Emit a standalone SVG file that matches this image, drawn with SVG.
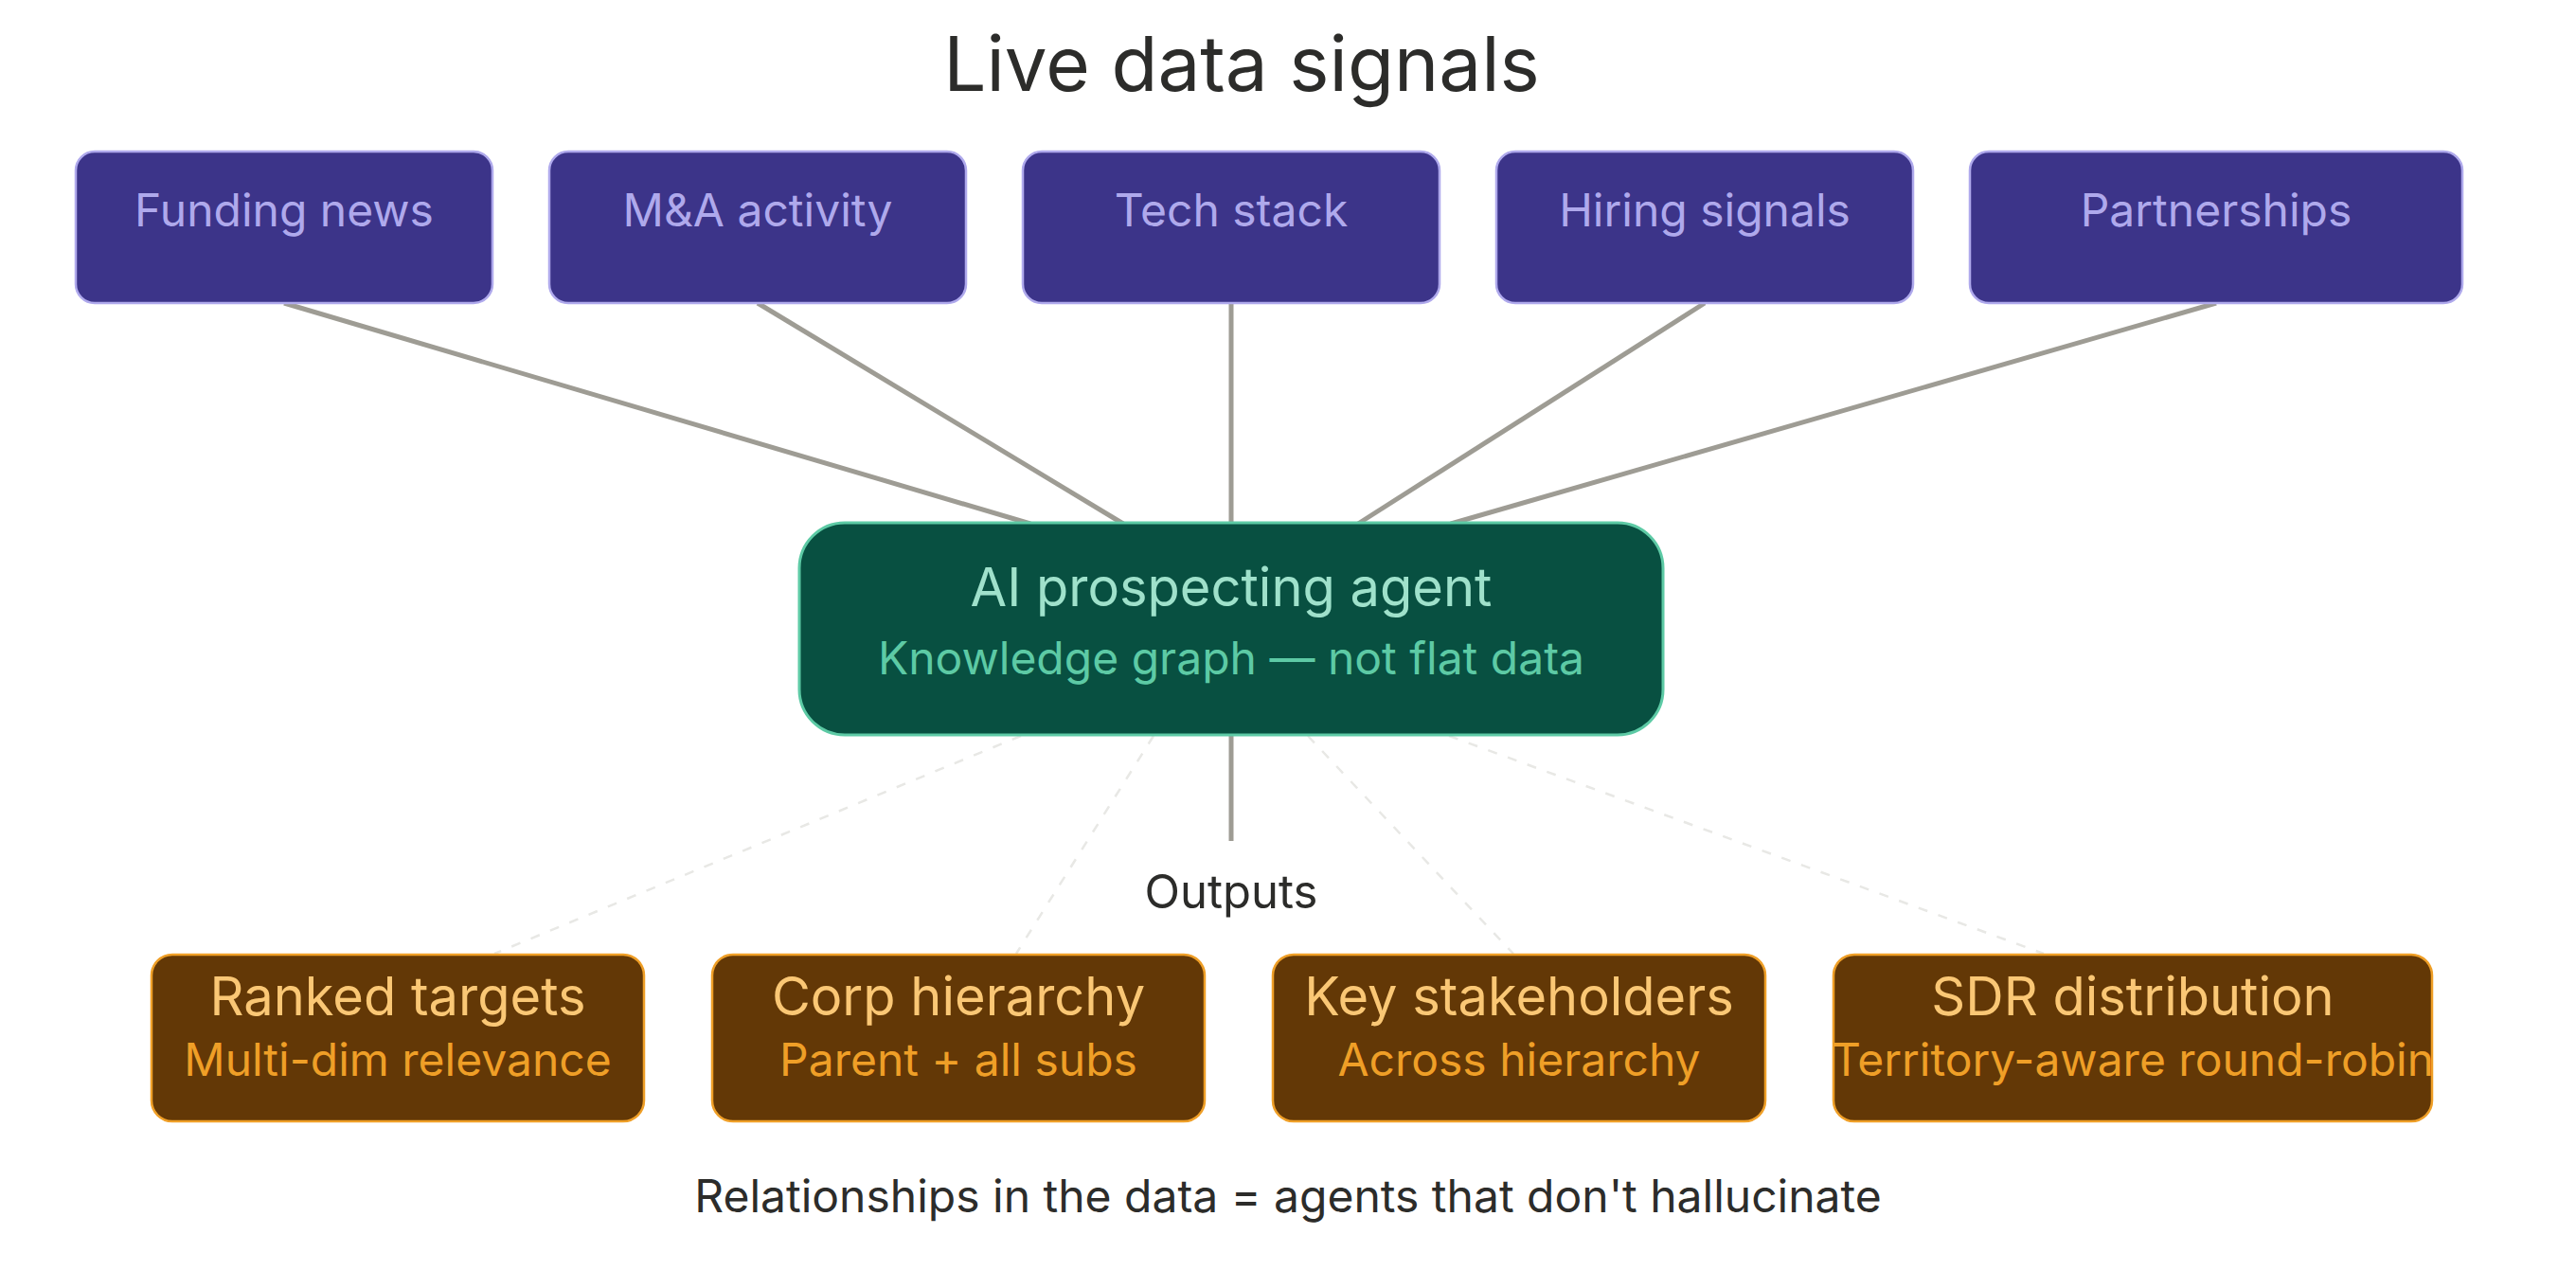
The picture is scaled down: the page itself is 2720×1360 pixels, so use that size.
<svg xmlns="http://www.w3.org/2000/svg" width="2720" height="1360" viewBox="0 0 2720 1360">
<style>
text{font-family:Inter,"Noto Sans","Liberation Sans",sans-serif;text-anchor:middle}
.src rect{fill:#3C3489;stroke:#AFA9EC;stroke-width:2.5}
.src text{fill:#AFA9EC;font-size:48px}
.hub rect{fill:#085041;stroke:#5DCAA5;stroke-width:3}
.out rect{fill:#633806;stroke:#EF9F27;stroke-width:2.5}
.out .t{fill:#FAC775;font-size:56px}
.out .s{fill:#EF9F27;font-size:48px}
.solid{stroke:#9E9C94;stroke-width:5;fill:none}
.dash{stroke:#E8E8E5;stroke-width:2.5;stroke-dasharray:10 12;fill:none}
.plain{fill:#2C2C2A}
</style>
<rect width="2720" height="1360" fill="#ffffff"/>
<text id="title" class="plain" x="1311" y="96" font-size="80">Live data signals</text>
<g id="connectors">
<line class="solid" x1="300" y1="320" x2="1088" y2="553"/>
<line class="solid" x1="800" y1="320" x2="1186" y2="553"/>
<line class="solid" x1="1300" y1="320" x2="1300" y2="553"/>
<line class="solid" x1="1800" y1="320" x2="1434" y2="553"/>
<line class="solid" x1="2340" y1="320" x2="1532" y2="553"/>
<line class="solid" x1="1300" y1="776" x2="1300" y2="888"/>
<line class="dash" x1="1078" y1="777" x2="522" y2="1007"/>
<line class="dash" x1="1218" y1="777" x2="1073" y2="1007"/>
<line class="dash" x1="1381" y1="777" x2="1598" y2="1007"/>
<line class="dash" x1="1530" y1="777" x2="2158" y2="1007"/>
</g>
<g id="n-funding" class="src"><rect x="80" y="160" width="440" height="160" rx="20"/><text x="300" y="239">Funding news</text></g>
<g id="n-ma" class="src"><rect x="580" y="160" width="440" height="160" rx="20"/><text x="800" y="239">M&amp;A activity</text></g>
<g id="n-tech" class="src"><rect x="1080" y="160" width="440" height="160" rx="20"/><text x="1300" y="239">Tech stack</text></g>
<g id="n-hiring" class="src"><rect x="1580" y="160" width="440" height="160" rx="20"/><text x="1800" y="239">Hiring signals</text></g>
<g id="n-partner" class="src"><rect x="2080" y="160" width="520" height="160" rx="20"/><text x="2340" y="239">Partnerships</text></g>
<g id="n-agent" class="hub"><rect x="844" y="552" width="912" height="224" rx="48"/>
<text x="1300" y="640" font-size="56" fill="#9FE1CB">AI prospecting agent</text>
<text x="1300" y="712" font-size="48" fill="#5DCAA5">Knowledge graph — not flat data</text></g>
<text id="outputs-label" class="plain" x="1300" y="959" font-size="49">Outputs</text>
<g id="n-ranked" class="out"><rect x="160" y="1008" width="520" height="176" rx="22"/><text class="t" x="420" y="1072">Ranked targets</text><text class="s" x="420" y="1136">Multi-dim relevance</text></g>
<g id="n-corp" class="out"><rect x="752" y="1008" width="520" height="176" rx="22"/><text class="t" x="1012" y="1072">Corp hierarchy</text><text class="s" x="1012" y="1136">Parent + all subs</text></g>
<g id="n-stake" class="out"><rect x="1344" y="1008" width="520" height="176" rx="22"/><text class="t" x="1604" y="1072">Key stakeholders</text><text class="s" x="1604" y="1136">Across hierarchy</text></g>
<g id="n-sdr" class="out"><rect x="1936" y="1008" width="632" height="176" rx="22"/><text class="t" x="2252" y="1072">SDR distribution</text><text class="s" x="2252" y="1136">Territory-aware round-robin</text></g>
<text id="caption" class="plain" x="1360" y="1280" font-size="48">Relationships in the data = agents that don't hallucinate</text>
</svg>
